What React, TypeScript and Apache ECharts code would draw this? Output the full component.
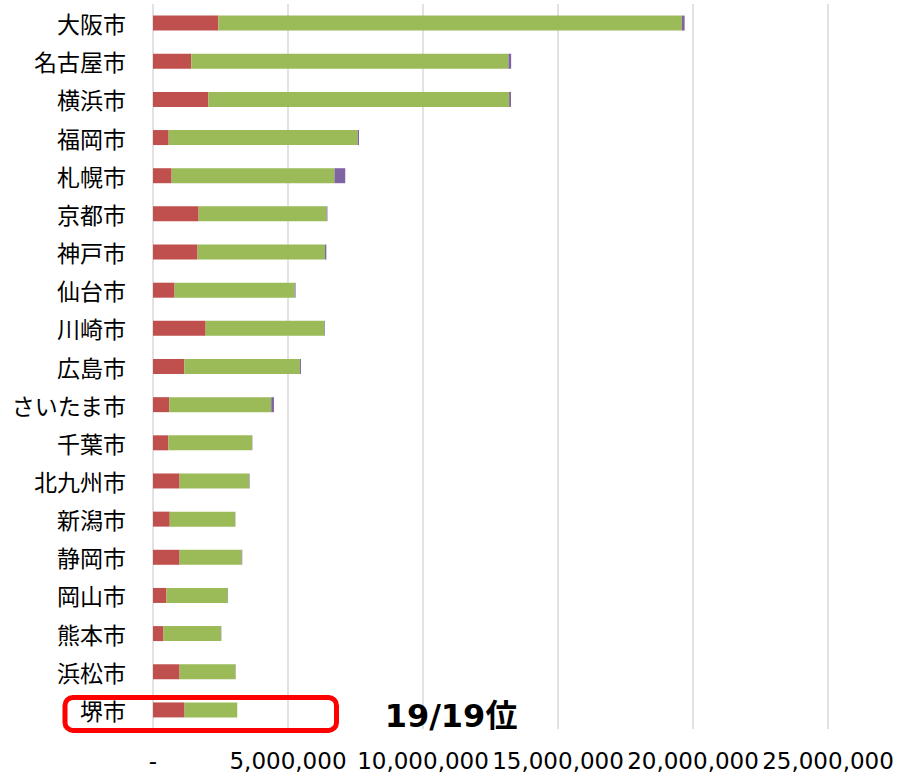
import React, { useEffect, useRef } from "react";
import * as echarts from "echarts";

const cities = [
  "大阪市", "名古屋市", "横浜市", "福岡市", "札幌市", "京都市", "神戸市", "仙台市", "川崎市", "広島市",
  "さいたま市", "千葉市", "北九州市", "新潟市", "静岡市", "岡山市", "熊本市", "浜松市", "堺市",
];
const redValues = [
  2420000, 1415000, 2050000, 580000, 690000, 1690000, 1650000, 800000, 1950000, 1160000,
  600000, 570000, 985000, 620000, 985000, 500000, 390000, 985000, 1170000,
];
const greenValues = [
  17170000, 11750000, 11140000, 7000000, 6030000, 4740000, 4720000, 4450000, 4400000, 4280000,
  3780000, 3100000, 2570000, 2420000, 2300000, 2270000, 2130000, 2070000, 1950000,
];
const purpleValues = [
  100000, 100000, 70000, 50000, 400000, 30000, 50000, 30000, 20000, 40000,
  100000, 10000, 20000, 10000, 20000, 10000, 10000, 10000, 0,
];
const xTicks = [0, 5000000, 10000000, 15000000, 20000000, 25000000];
const highlightCity = "堺市";
const rankText = "19/19位";

const fmt = (v: number) => (v === 0 ? "-" : v.toLocaleString("en-US"));

export default function App() {
  const ref = useRef<HTMLDivElement>(null);
  useEffect(() => {
    if (!ref.current) return;
    const chart = echarts.init(ref.current, null, { renderer: "svg" });
    const barW = 15;
    chart.setOption({
      animation: false,
      grid: { left: 153, right: 70, top: 4, bottom: 47, containLabel: false },
      xAxis: {
        type: "value",
        min: xTicks[0],
        max: xTicks[xTicks.length - 1],
        interval: 5000000,
        axisLine: { show: false },
        axisTick: { show: false },
        splitLine: { show: true, lineStyle: { color: "#d9d9d9", width: 1.5 } },
        axisLabel: {
          formatter: fmt,
          fontSize: 23,
          fontFamily: "DejaVu Sans",
          color: "#000",
          margin: 20,
          showMinLabel: true,
          showMaxLabel: true,
          hideOverlap: false,
        },
      },
      yAxis: {
        type: "category",
        data: cities,
        inverse: true,
        axisLine: { show: false },
        axisTick: { show: false },
        splitLine: { show: false },
        axisLabel: {
          fontSize: 23,
          fontFamily: "Noto Sans CJK JP",
          color: "#000",
          margin: 27,
          interval: 0,
        },
      },
      series: [
        { name: "red", type: "bar", stack: "t", data: redValues, barWidth: barW, itemStyle: { color: "#C0504D" } },
        { name: "green", type: "bar", stack: "t", data: greenValues, barWidth: barW, itemStyle: { color: "#9BBB59" } },
        { name: "purple", type: "bar", stack: "t", data: purpleValues, barWidth: barW, itemStyle: { color: "#8064A2" } },
      ],
    });
    let yS = 710;
    const p = chart.convertToPixel({ yAxisIndex: 0 }, highlightCity);
    if (typeof p === "number" && isFinite(p)) yS = p;
    chart.setOption({
      graphic: [
        {
          type: "rect",
          shape: { x: 65, y: yS - 12.5, width: 271.5, height: 33, r: 8 },
          style: { fill: "none", stroke: "#FF0000", lineWidth: 5 },
          z: 100,
        },
        {
          type: "text",
          x: 451,
          y: yS + 6,
          style: {
            text: rankText,
            fontSize: 32,
            fontWeight: "bold",
            fontFamily: "DejaVu Sans, Noto Sans CJK JP",
            fill: "#000",
            align: "center",
            verticalAlign: "middle",
          },
          z: 100,
        },
      ],
    });
    return () => chart.dispose();
  }, []);
  return (
    <div
      ref={ref}
      style={{ position: "absolute", left: 0, top: 0, width: 898, height: 776, background: "#fff" }}
    />
  );
}
